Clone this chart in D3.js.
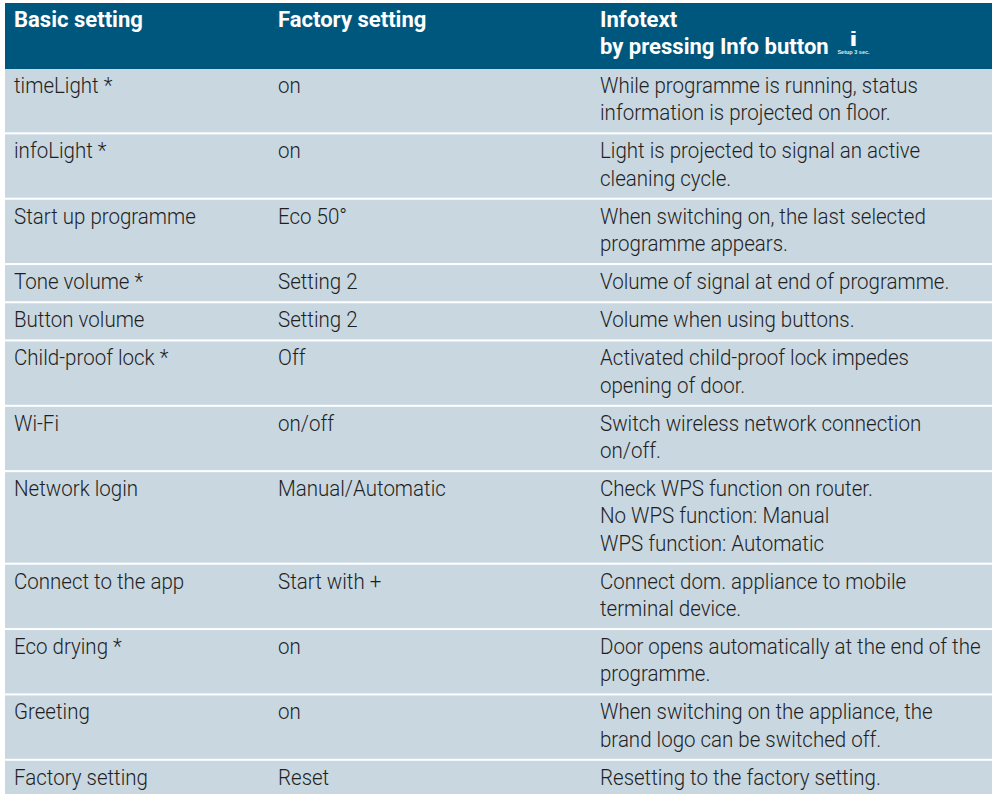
<!DOCTYPE html>
<html>
<head>
<meta charset="utf-8">
<script src="https://cdn.jsdelivr.net/npm/d3@7"></script>
<style>
    html, body { margin: 0; padding: 0; background: #fff; overflow: hidden; }
    svg { display: block; }
    text { font-family: Roboto, "Liberation Sans", sans-serif; font-size: 22.5px; }
    .body { fill: #1f1f1f; font-weight: 300; }
    .head { fill: #fff; font-weight: 700; }
</style>
</head>
<body>
<svg width="994" height="794"></svg>
<script>
var headers = ["Basic setting", "Factory setting"];
var infoHeader = ["Infotext", "by pressing Info button"];
var basicSettings = ["timeLight *", "infoLight *", "Start up programme", "Tone volume *", "Button volume",
    "Child-proof lock *", "Wi-Fi", "Network login", "Connect to the app", "Eco drying *", "Greeting", "Factory setting"];
var factorySettings = ["on", "on", "Eco 50°", "Setting 2", "Setting 2", "Off", "on/off", "Manual/Automatic",
    "Start with +", "on", "on", "Reset"];
var infoTexts = [
    ["While programme is running, status", "information is projected on floor."],
    ["Light is projected to signal an active", "cleaning cycle."],
    ["When switching on, the last selected", "programme appears."],
    ["Volume of signal at end of programme."],
    ["Volume when using buttons."],
    ["Activated child-proof lock impedes", "opening of door."],
    ["Switch wireless network connection", "on/off."],
    ["Check WPS function on router.", "No WPS function: Manual", "WPS function: Automatic"],
    ["Connect dom. appliance to mobile", "terminal device."],
    ["Door opens automatically at the end of the", "programme."],
    ["When switching on the appliance, the", "brand logo can be switched off."],
    ["Resetting to the factory setting."]
];

var svg = d3.select("svg");

var lineHeight = 27.18, rowPad = 11;
var tableTop = 3, headTop = 69;
var narrowBody = 0.912, narrowHead = 0.98; // no condensed font installed, so squeeze the text

// column text positions
var x = d3.scaleOrdinal().domain([0, 1, 2]).range([14, 278, 600]);

function place(px, py, k) {
    return "translate(" + px + "," + py + ") scale(" + k + ",1)";
}

// cumulative row tops, row height follows the number of info lines
var tops = [];
infoTexts.reduce(function (y, lines) {
    tops.push(y);
    return y + rowPad + lines.length * lineHeight;
}, headTop);

var rows = basicSettings.map(function (d, i) {
    return { basic: d, factory: factorySettings[i], info: infoTexts[i], top: tops[i] };
});

svg.append("rect")
    .attr("x", 5)
    .attr("y", tableTop)
    .attr("width", 987)
    .attr("height", headTop - tableTop)
    .attr("fill", "#00577d");

svg.selectAll("text.col")
    .data(headers)
    .enter()
    .append("text")
    .attr("class", "col head")
    .attr("transform", function (d, i) { return place(x(i), 27, narrowHead); })
    .text(function (d) { return d; });

svg.selectAll("text.info")
    .data(infoHeader)
    .enter()
    .append("text")
    .attr("class", "info head")
    .attr("transform", function (d, i) { return place(x(2), 27 + i * lineHeight, narrowHead); })
    .text(function (d) { return d; });

// Info button icon
svg.append("text")
    .attr("transform", place(853.5, 46, 1.5))
    .attr("text-anchor", "middle")
    .attr("fill", "#fff")
    .style("font-family", "Liberation Sans")
    .style("font-weight", "bold")
    .style("font-size", "20px")
    .text("i");
svg.append("text")
    .attr("x", 853.5)
    .attr("y", 54)
    .attr("text-anchor", "middle")
    .attr("fill", "#dfe8ee")
    .style("font-family", "Liberation Sans")
    .style("font-size", "5.5px")
    .style("font-weight", "bold")
    .text("Setup 3 sec.");

var row = svg.selectAll("g.row")
    .data(rows)
    .enter()
    .append("g")
    .attr("class", "row");

row.append("rect")
    .attr("x", 5)
    .attr("y", function (d) { return d.top; })
    .attr("width", 987)
    .attr("height", function (d) { return rowPad - 2 + d.info.length * lineHeight; })
    .attr("fill", "#c9d7e1");

row.append("text")
    .attr("class", "body")
    .attr("transform", function (d) { return place(x(0), d.top + 24, narrowBody); })
    .text(function (d) { return d.basic; });

row.append("text")
    .attr("class", "body")
    .attr("transform", function (d) { return place(x(1), d.top + 24, narrowBody); })
    .text(function (d) { return d.factory; });

row.selectAll("text.line")
    .data(function (d) {
        return d.info.map(function (t, i) { return { t: t, y: d.top + 24 + i * lineHeight }; });
    })
    .enter()
    .append("text")
    .attr("class", "line body")
    .attr("transform", function (d) { return place(x(2), d.y, narrowBody); })
    .text(function (d) { return d.t; });
</script>
</body>
</html>
